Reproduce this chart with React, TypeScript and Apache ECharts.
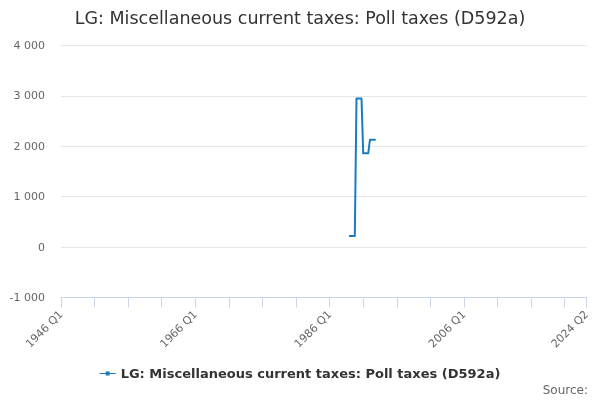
import React, { useEffect, useRef } from "react";
import * as echarts from "echarts";

const titleText = "LG: Miscellaneous current taxes: Poll taxes (D592a)";
const seriesName = "LG: Miscellaneous current taxes: Poll taxes (D592a)";
const firstYear = 1946;
const lastYear = 2024;
const lastQuarter = 2;

// observed quarters and values (£ million)
const observedQuarters = [
  "1989 Q1", "1989 Q2", "1989 Q3", "1989 Q4",
  "1990 Q1", "1990 Q2", "1990 Q3", "1990 Q4",
  "1991 Q1", "1991 Q2", "1991 Q3", "1991 Q4",
  "1992 Q1", "1992 Q2", "1992 Q3", "1992 Q4",
];
const observedValues = [
  220, 220, 220, 220,
  2950, 2950, 2950, 2950,
  1860, 1860, 1860, 1860,
  2130, 2130, 2130, 2130,
];
const yTicks = [-1000, 0, 1000, 2000, 3000, 4000];

function buildCategories(): string[] {
  const out: string[] = [];
  for (let y = firstYear; y <= lastYear; y++) {
    for (let q = 1; q <= 4; q++) {
      if (y === lastYear && q > lastQuarter) break;
      out.push(`${y} Q${q}`);
    }
  }
  return out;
}

const categories = buildCategories();

export default function App() {
  const ref = useRef<HTMLDivElement>(null);
  useEffect(() => {
    if (!ref.current) return;
    const chart = echarts.init(ref.current, undefined, { renderer: "svg" });
    const data: (number | null)[] = categories.map((c) => {
      const i = observedQuarters.indexOf(c);
      return i >= 0 ? observedValues[i] : null;
    });
    const last = categories.length - 1;
    const font = "DejaVu Sans, sans-serif";
    chart.setOption({
      animation: false,
      textStyle: { fontFamily: font },
      title: {
        text: titleText,
        left: "center",
        top: 4,
        textStyle: { fontSize: 17.5, fontWeight: "normal", color: "#333333", fontFamily: font },
      },
      grid: { left: 61, right: 13.5, top: 45.5, bottom: 102.5, containLabel: false },
      legend: {
        bottom: 15,
        left: "center",
        itemWidth: 16,
        itemHeight: 6,
        textStyle: { fontSize: 13, fontWeight: "bold", color: "#333333", fontFamily: font },
        data: [{ name: seriesName, icon: "path://M0,2.5 L16,2.5 L16,3.5 L0,3.5 Z M6,1 L10,1 L10,5 L6,5 Z" }],
      },
      xAxis: {
        type: "category",
        data: categories,
        boundaryGap: false,
        axisLine: { onZero: false, lineStyle: { color: "#ccd6eb", width: 1 } },
        axisTick: {
          show: true,
          length: 10,
          interval: (i: number) => i % 20 === 0 || i === last,
          lineStyle: { color: "#ccd6eb" },
        },
        axisLabel: {
          rotate: 45,
          margin: 15,
          fontSize: 11,
          color: "#666666",
          fontFamily: font,
          interval: (i: number) => i % 80 === 0 || i === last,
          showMaxLabel: true,
        },
        splitLine: { show: false },
      },
      yAxis: {
        type: "value",
        min: yTicks[0],
        max: yTicks[yTicks.length - 1],
        interval: 1000,
        axisLine: { show: false },
        axisTick: { show: false },
        axisLabel: {
          margin: 16,
          fontSize: 11,
          color: "#666666",
          fontFamily: font,
          formatter: (v: number) => {
            const s = Math.abs(v).toString().replace(/\B(?=(\d{3})+(?!\d))/g, " ");
            return (v < 0 ? "-" : "") + s;
          },
        },
        splitLine: { lineStyle: { color: "#e6e6e6", width: 1 } },
      },
      series: [
        {
          name: seriesName,
          type: "line",
          data,
          showSymbol: false,
          connectNulls: false,
          color: "#1b7bbf",
          lineStyle: { width: 2, color: "#1b7bbf", join: "round", cap: "round" },
        },
      ],
      graphic: [
        {
          type: "text",
          right: 12,
          bottom: 4,
          style: { text: "Source:", fontSize: 12, fill: "#666666", fontFamily: font },
        },
      ],
    });
    return () => chart.dispose();
  }, []);
  return (
    <div
      ref={ref}
      style={{ position: "fixed", left: 0, top: 0, width: 600, height: 400 }}
    />
  );
}
